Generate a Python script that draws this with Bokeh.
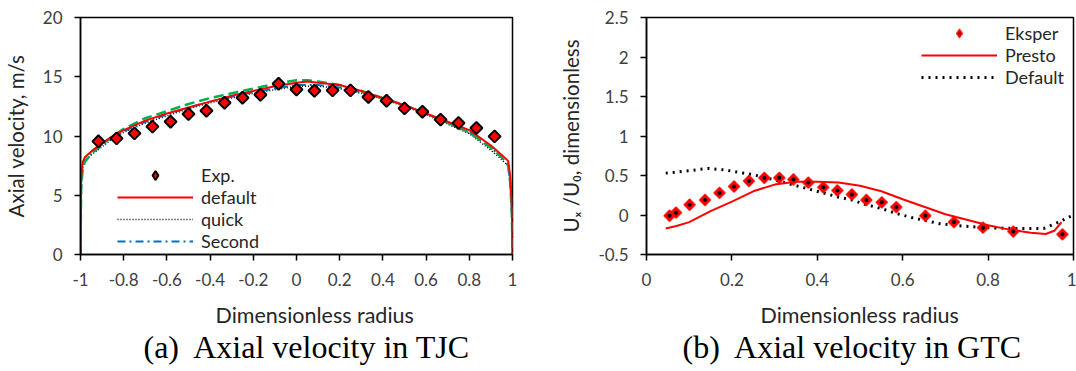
from bokeh.plotting import figure
from bokeh.layouts import row
from bokeh.models import (Legend, LegendItem, FixedTicker, NumeralTickFormatter,
                          Title, Range1d)
from bokeh.embed import file_html
from bokeh.resources import INLINE

# ---------------- (a) Axial velocity in TJC ----------------
exp_r = [-0.917, -0.833, -0.75, -0.667, -0.583, -0.5, -0.417, -0.333, -0.25,
         -0.167, -0.083, 0.0, 0.083, 0.167, 0.25, 0.333, 0.417, 0.5, 0.583,
         0.667, 0.75, 0.833, 0.917]
exp_u = [9.55, 9.80, 10.22, 10.79, 11.21, 11.85, 12.13, 12.81, 13.23, 13.48,
         14.41, 13.93, 13.82, 13.85, 13.85, 13.29, 12.98, 12.33, 12.05, 11.38,
         11.10, 10.67, 9.97]

sim_r = [-1.0, -0.997, -0.99, -0.98, -0.95, -0.9, -0.85, -0.8, -0.7, -0.6, -0.5,
         -0.4, -0.3, -0.2, -0.1, 0.0, 0.05, 0.1, 0.2, 0.3, 0.4, 0.5, 0.6, 0.7,
         0.8, 0.9, 0.95, 0.98, 0.99, 0.997, 1.0]
default_u = [0.0, 6.5, 7.8, 8.2, 8.7, 9.4, 10.0, 10.5, 11.3, 11.9, 12.4, 12.9,
             13.4, 13.8, 14.2, 14.5, 14.6, 14.5, 14.3, 13.8, 13.2, 12.6, 11.9,
             11.2, 10.5, 9.2, 8.4, 7.9, 6.5, 4.0, 0.0]
quick_u = [0.0, 6.0, 7.3, 7.8, 8.4, 9.1, 9.8, 10.3, 11.1, 11.7, 12.3, 12.8,
           13.2, 13.6, 13.9, 14.2, 14.2, 14.2, 14.0, 13.6, 13.1, 12.5, 11.8,
           11.0, 10.2, 8.8, 8.0, 7.5, 6.0, 3.5, 0.0]
second_u = [0.0, 6.0, 7.4, 7.9, 8.5, 9.2, 9.9, 10.4, 11.2, 11.8, 12.4, 12.9,
            13.3, 13.7, 14.0, 14.3, 14.3, 14.3, 14.1, 13.7, 13.2, 12.6, 11.9,
            11.1, 10.3, 9.0, 8.2, 7.6, 6.0, 3.5, 0.0]
green_u = [0.0, 5.5, 7.2, 7.8, 8.5, 9.3, 10.0, 10.6, 11.5, 12.1, 12.7, 13.2,
           13.6, 14.0, 14.4, 14.7, 14.7, 14.6, 14.3, 13.8, 13.2, 12.6, 11.9,
           11.1, 10.3, 9.0, 8.2, 7.5, 6.0, 3.5, 0.0]

a_xticks = [-1, -0.8, -0.6, -0.4, -0.2, 0, 0.2, 0.4, 0.6, 0.8, 1]
a_yticks = [0, 5, 10, 15, 20]

# ---------------- (b) Axial velocity in GTC ----------------
eks_r = [0.054, 0.069, 0.101, 0.137, 0.171, 0.205, 0.240, 0.276, 0.311, 0.344,
         0.379, 0.414, 0.447, 0.481, 0.515, 0.551, 0.585, 0.653, 0.720, 0.788,
         0.859, 0.974]
eks_u = [-0.01, 0.03, 0.13, 0.19, 0.28, 0.36, 0.43, 0.47, 0.47, 0.45, 0.41,
         0.35, 0.31, 0.26, 0.19, 0.16, 0.10, -0.01, -0.09, -0.16, -0.21, -0.245]

presto_r = [0.045, 0.07, 0.1, 0.15, 0.2, 0.25, 0.3, 0.35, 0.4, 0.45, 0.5, 0.55,
            0.6, 0.65, 0.7, 0.75, 0.8, 0.85, 0.9, 0.935, 0.955, 0.972]
presto_u = [-0.17, -0.14, -0.09, 0.05, 0.17, 0.30, 0.385, 0.42, 0.42, 0.41,
            0.37, 0.30, 0.20, 0.105, 0.01, -0.06, -0.13, -0.185, -0.225, -0.24,
            -0.20, -0.09]

dflt_r = [0.045, 0.1, 0.144, 0.184, 0.216, 0.25, 0.28, 0.311, 0.344, 0.379,
          0.414, 0.447, 0.481, 0.515, 0.551, 0.585, 0.619, 0.653, 0.687, 0.72,
          0.788, 0.859, 0.93, 0.966, 0.988, 1.0]
dflt_u = [0.53, 0.56, 0.59, 0.57, 0.54, 0.51, 0.47, 0.43, 0.38, 0.33, 0.28,
          0.23, 0.19, 0.13, 0.08, 0.02, -0.03, -0.07, -0.11, -0.13, -0.16,
          -0.17, -0.17, -0.09, -0.03, 0.0]

b_xticks = [0, 0.2, 0.4, 0.6, 0.8, 1]
b_yticks = [-0.5, 0, 0.5, 1, 1.5, 2, 2.5]

SANS = "Lato"
SERIF = "Liberation Serif"
TXT = "#262626"
TICKTXT = "#404040"


def style(p, xticks, yticks):
    p.xgrid.visible = False
    p.ygrid.visible = False
    p.outline_line_color = "black"
    p.outline_line_width = 1.5
    p.outline_line_alpha = 1
    p.background_fill_color = "white"
    p.border_fill_color = "white"
    p.xaxis.ticker = FixedTicker(ticks=xticks)
    p.yaxis.ticker = FixedTicker(ticks=yticks)
    for ax in (p.xaxis[0], p.yaxis[0]):
        ax.formatter = NumeralTickFormatter(format="0.[0]")
        ax.axis_line_color = "black"
        ax.axis_line_width = 1.5
        ax.major_tick_line_color = "black"
        ax.major_tick_line_width = 1.5
        ax.major_tick_in = 0
        ax.major_tick_out = 6
        ax.minor_tick_line_color = None
        ax.major_label_text_font = SANS
        ax.major_label_text_font_size = "17px"
        ax.major_label_text_color = TICKTXT
        ax.major_label_standoff = 12
        ax.axis_label_text_font = SANS
        ax.axis_label_text_font_size = "20.5px"
        ax.axis_label_text_font_style = "normal"
        ax.axis_label_text_color = TXT


def add_bottom_titles(p, label, label_offset, caption, caption_offset):
    p.add_layout(Title(text=label, align="left", offset=label_offset,
                       vertical_align="top", standoff=26,
                       text_font=SANS, text_font_size="21.5px",
                       text_font_style="normal", text_color=TXT), "below")
    p.add_layout(Title(text=caption, align="left", offset=caption_offset,
                       vertical_align="top", standoff=-28,
                       text_font=SERIF, text_font_size="32px",
                       text_font_style="normal", text_color="black"), "below")


def make_legend(items, loc):
    return Legend(items=items, location=loc, orientation="vertical",
                  glyph_width=76, glyph_height=22, label_height=22, spacing=0,
                  padding=0, margin=0, label_standoff=8,
                  label_text_font=SANS, label_text_font_size="18px",
                  label_text_color=TXT, border_line_color=None,
                  background_fill_alpha=0)


# ---------------- figure (a) ----------------
pa = figure(width=540, height=371, output_backend="svg", toolbar_location=None,
            x_range=Range1d(-1, 1), y_range=Range1d(0, 20),
            min_border_left=80, min_border_right=28, min_border_top=17,
            min_border_bottom=117)
style(pa, a_xticks, a_yticks)
pa.yaxis.axis_label = "Axial velocity, m/s"
pa.yaxis.axis_label_standoff = 12

r_quick = pa.line(sim_r, quick_u, line_color="black", line_width=1.5, line_dash="1 2")
r_second = pa.line(sim_r, second_u, line_color="#0070C0", line_width=2, line_dash="8 4 2 4")
r_green = pa.line(sim_r, green_u, line_color="#00B050", line_width=2.5, line_dash="10 5")
r_default = pa.line(sim_r, default_u, line_color="red", line_width=2)
# diamond (used for the legend key) sits fully under the rotated-square markers
r_exp_key = pa.scatter(exp_r, exp_u, marker="diamond", size=10,
                       fill_color="red", line_color="black", line_width=2)
r_exp = pa.scatter(exp_r, exp_u, marker="square", angle=0.785398, size=8.5,
                   fill_color="red", line_color="black", line_width=2)

pa.add_layout(make_legend([LegendItem(label="Exp.", renderers=[r_exp_key]),
                           LegendItem(label="default", renderers=[r_default]),
                           LegendItem(label="quick", renderers=[r_quick]),
                           LegendItem(label="Second", renderers=[r_second])],
                          (37, 2)))
add_bottom_titles(pa, "Dimensionless radius", 135,
                  "(a)\u00a0 Axial velocity in TJC", 63)

# ---------------- figure (b) ----------------
pb = figure(width=536, height=371, output_backend="svg", toolbar_location=None,
            x_range=Range1d(0, 1), y_range=Range1d(-0.5, 2.5),
            min_border_left=106, min_border_right=3, min_border_top=17,
            min_border_bottom=117)
style(pb, b_xticks, b_yticks)
pb.yaxis.axis_label = "U\u2093 /U\u2080, dimensionless"
pb.yaxis.axis_label_standoff = 12

r_dflt = pb.line(dflt_r, dflt_u, line_color="black", line_width=3,
                 line_dash="2 5")
r_presto = pb.line(presto_r, presto_u, line_color="red", line_width=2)
r_eks_key = pb.scatter(eks_r, eks_u, marker="diamond", size=10,
                       fill_color="red", line_color="red", line_width=1.5,
                       line_alpha=0.7)
r_eks = pb.scatter(eks_r, eks_u, marker="square", angle=0.785398, size=8,
                   fill_color="red", line_color="red", line_width=1.5,
                   line_alpha=0.7)
r_eks_dot = pb.scatter(eks_r, eks_u, marker="dot", size=16,
                       fill_color="black", line_color="black")

pb.add_layout(make_legend([LegendItem(label="Eksper", renderers=[r_eks_key, r_eks_dot]),
                           LegendItem(label="Presto", renderers=[r_presto]),
                           LegendItem(label="Default", renderers=[r_dflt])],
                          (275, 166)))
add_bottom_titles(pb, "Dimensionless radius", 114,
                  "(b)\u00a0 Axial velocity in GTC", 36)

layout = row(pa, pb, spacing=0)
open("out.html", "w").write(file_html(layout, INLINE))
